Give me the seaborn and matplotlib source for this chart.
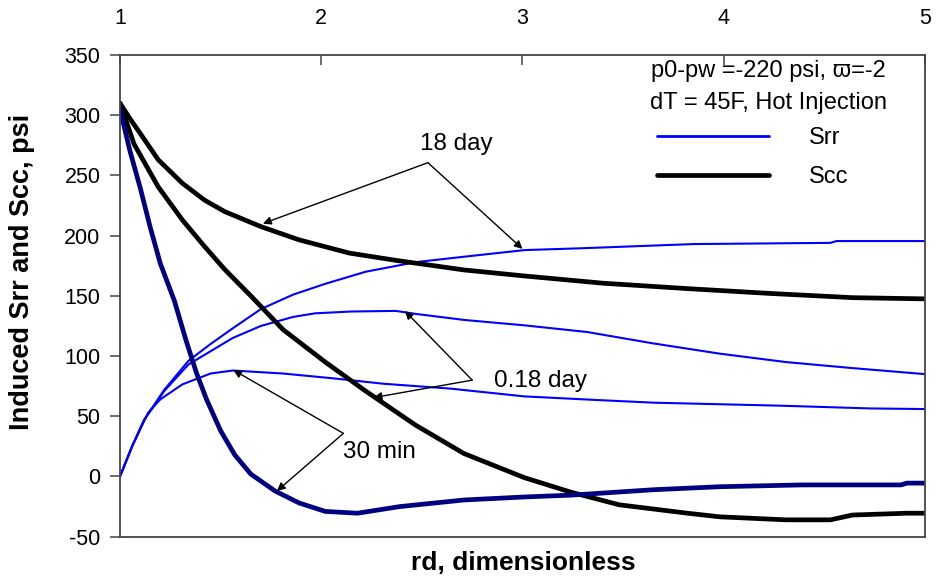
import matplotlib
matplotlib.use("Agg")
import matplotlib.pyplot as plt
import seaborn as sns
from matplotlib.lines import Line2D

# ---------------- data ----------------
x_srr_18d = [1.00, 1.06, 1.12, 1.22, 1.34, 1.45, 1.56, 1.70, 1.86, 2.02, 2.22, 2.47, 2.71, 3.01, 3.29, 3.85, 4.53, 4.56, 5.00]
y_srr_18d = [0, 25, 47, 72, 96, 110, 123, 139, 151, 160, 170, 178, 182.5, 188, 189.5, 193, 194, 195.5, 195.5]

x_srr_018d = [1.00, 1.06, 1.12, 1.22, 1.34, 1.45, 1.56, 1.70, 1.86, 1.97, 2.15, 2.37, 2.47, 2.71, 3.01, 3.32, 3.65, 3.98, 4.31, 4.64, 5.00]
y_srr_018d = [0, 25, 47, 71, 93, 104, 115, 125, 132.5, 135.5, 137, 137.5, 135, 130, 125.5, 120, 110.5, 102, 95, 90, 85]

x_srr_30m = [1.00, 1.06, 1.14, 1.20, 1.31, 1.45, 1.56, 1.81, 2.06, 2.31, 2.64, 3.01, 3.37, 3.65, 4.28, 4.73, 5.00]
y_srr_30m = [0, 25, 53, 64, 76.5, 85.5, 88, 85.5, 81.5, 77, 73, 66.5, 63.5, 61.3, 58.8, 56.5, 56]

x_scc_18d = [1.00, 1.05, 1.10, 1.19, 1.31, 1.42, 1.52, 1.70, 1.89, 2.14, 2.37, 2.71, 3.01, 3.40, 3.82, 4.23, 4.64, 5.00]
y_scc_18d = [310, 297, 285, 263, 243.5, 229.5, 220, 207.5, 196.5, 185.5, 179.5, 171.5, 166.5, 160.5, 156, 152, 148.5, 147.5]

x_scc_018d = [1.00, 1.07, 1.19, 1.31, 1.42, 1.52, 1.65, 1.81, 2.02, 2.22, 2.47, 2.71, 3.01, 3.24, 3.48, 3.82, 3.98, 4.31, 4.53, 4.64, 4.91, 5.00]
y_scc_018d = [310, 276, 240.5, 213, 191, 172, 150, 122, 95, 71, 42.5, 19, -1, -13, -23.5, -30.5, -33.5, -36, -36, -32, -30.5, -30.5]

x_scc_30m = [1.00, 1.05, 1.10, 1.15, 1.20, 1.27, 1.33, 1.38, 1.43, 1.50, 1.57, 1.65, 1.77, 1.89, 2.02, 2.18, 2.39, 2.71, 3.01, 3.24, 3.65, 3.98, 4.39, 4.88, 4.91, 5.00]
y_scc_30m = [305, 270, 240, 207, 177, 146, 112, 86, 64, 38, 18, 2, -12, -22, -29, -30.5, -25, -19.5, -17, -15.5, -11, -8.5, -7, -7, -5.5, -5.5]

x_ticks = [1, 2, 3, 4, 5]
y_ticks = [-50, 0, 50, 100, 150, 200, 250, 300, 350]

# annotation anchor points (vertex, tips) in data units
ann_18d = {"vertex": (2.53, 260.6), "tips": [(1.71, 210.0), (3.00, 189.0)], "text": "18 day", "pos": (2.49, 276.0)}
ann_018d = {"vertex": (2.75, 80.0), "tips": [(2.416, 137.4), (2.26, 65.5)], "text": "0.18 day", "pos": (2.86, 79.0)}
ann_30m = {"vertex": (2.11, 35.8), "tips": [(1.563, 88.4), (1.78, -12.0)], "text": "30 min", "pos": (2.11, 20.0)}

# ---------------- styling ----------------
sns.set_style("ticks")
plt.rcParams["font.family"] = ["Liberation Sans", "DejaVu Sans"]
plt.rcParams["text.color"] = "black"
plt.rcParams["xtick.color"] = "black"
plt.rcParams["ytick.color"] = "black"
plt.rcParams["xtick.labelcolor"] = "black"
plt.rcParams["ytick.labelcolor"] = "black"

BLUE = "#0000FF"
NAVY = "#000080"
BLACK = "#000000"

fig = plt.figure(figsize=(9.37, 5.76), dpi=100)
ax = fig.add_axes([120 / 937, 1 - 536.7 / 576, 805 / 937, 481.7 / 576])

thin = 1.5
thick = 3.4

sns.lineplot(x=x_srr_18d, y=y_srr_18d, color=BLUE, lw=thin, ax=ax, legend=False)
sns.lineplot(x=x_srr_018d, y=y_srr_018d, color=BLUE, lw=thin, ax=ax, legend=False)
sns.lineplot(x=x_srr_30m, y=y_srr_30m, color=BLUE, lw=thin, ax=ax, legend=False)
sns.lineplot(x=x_scc_18d, y=y_scc_18d, color=BLACK, lw=thick, ax=ax, legend=False)
sns.lineplot(x=x_scc_018d, y=y_scc_018d, color=BLACK, lw=thick, ax=ax, legend=False)
sns.lineplot(x=x_scc_30m, y=y_scc_30m, color=NAVY, lw=thick, ax=ax, legend=False)

ax.set_xlim(1, 5)
ax.set_ylim(-50, 350)
ax.set_xticks(x_ticks)
ax.set_yticks(y_ticks)
ax.set_xticklabels([str(v) for v in x_ticks])
ax.set_yticklabels([str(v) for v in y_ticks])

ax.xaxis.tick_top()
ax.tick_params(axis="x", direction="in", length=7, width=1.1, color="#444444",
               pad=19, labelsize=15.5, top=True, bottom=False, labeltop=True, labelbottom=False)
ax.tick_params(axis="y", direction="out", length=7, width=1.1, color="#444444",
               pad=7, labelsize=15.5, left=True, right=False)

for s in ax.spines.values():
    s.set_visible(True)
    s.set_color("#444444")
    s.set_linewidth(1.3)

ax.set_xlabel("")
ax.set_ylabel("")
fig.text(523 / 937, 1 - 563 / 576, "rd, dimensionless", ha="center", va="center",
         fontsize=19, fontweight="bold")
fig.text(22 / 937, 1 - 272 / 576, "Induced Srr and Scc, psi", ha="center", va="center",
         rotation=90, fontsize=19.5, fontweight="bold")

# annotations
for ann in (ann_18d, ann_018d, ann_30m):
    for tip in ann["tips"]:
        ax.annotate("", xy=tip, xytext=ann["vertex"], xycoords="data",
                    arrowprops=dict(arrowstyle="-|>", color="black", lw=1.0,
                                    mutation_scale=12, shrinkA=0, shrinkB=0))
    ax.text(ann["pos"][0], ann["pos"][1], ann["text"], ha="left", va="center", fontsize=17.5)

# legend header text
ax.text(0.805, 0.967, "p0-pw =-220 psi, \u03d6=-2", transform=ax.transAxes,
        ha="center", va="center", fontsize=17)
ax.text(0.805, 0.9005, "dT = 45F, Hot Injection", transform=ax.transAxes,
        ha="center", va="center", fontsize=17)

handles = [Line2D([0], [0], color=BLUE, lw=2.0), Line2D([0], [0], color=BLACK, lw=thick)]
ax.legend(handles, ["Srr", "Scc"], loc="upper left", bbox_to_anchor=(0.667, 0.851),
          frameon=False, fontsize=17, handlelength=4.75, handletextpad=1.7,
          labelspacing=0.72, borderpad=0, borderaxespad=0)

fig.savefig("out.png", dpi=100, facecolor="white")
